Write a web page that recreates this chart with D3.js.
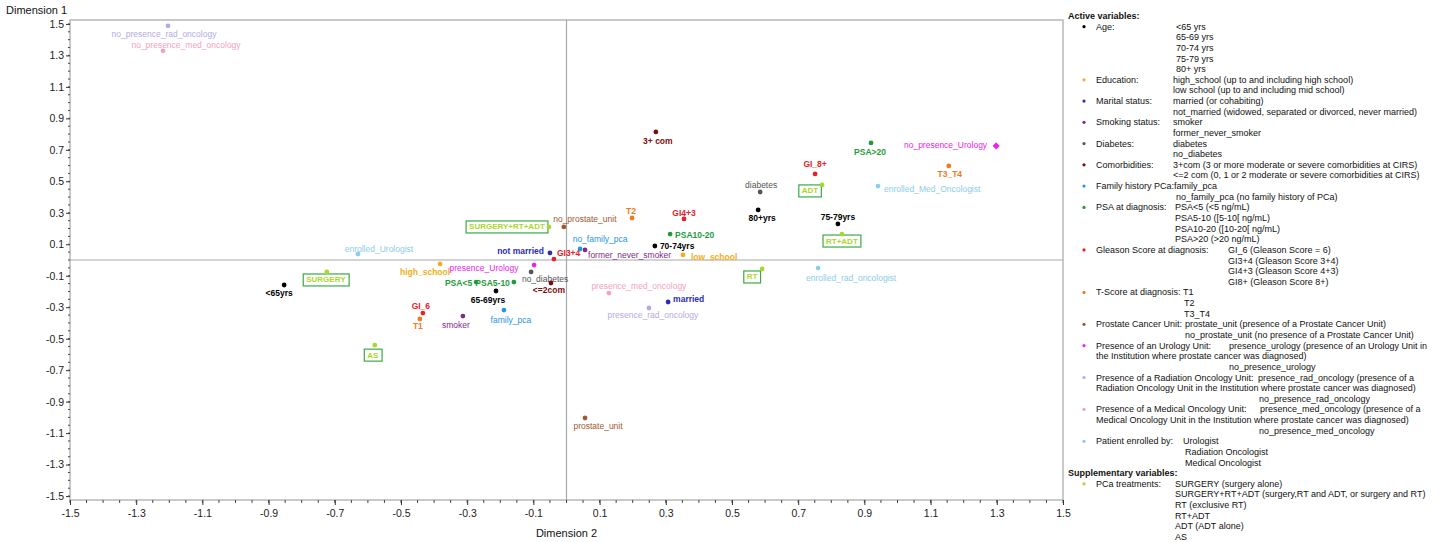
<!DOCTYPE html>
<html><head><meta charset="utf-8">
<script src="https://cdn.jsdelivr.net/npm/d3@7"></script>
<style>
html,body{margin:0;padding:0;background:#fff;}
svg{display:block;font-family:"Liberation Sans",Arial,sans-serif;}
</style></head>
<body><svg id="chart" width="1444" height="542"></svg>
<script>
// ---- data ----
const categories = ["no_presence_rad_oncology","no_presence_med_oncology","<65yrs","SURGERY","enrolled_Urologist","AS","high_school","presence_Urology","PSA<5","PSA5-10","65-69yrs","no_diabetes","<=2com","GI_6","T1","smoker","family_pca","not married","GI3+4","SURGERY+RT+ADT","no_prostate_unit","T2","3+ com","GI4+3","PSA10-20","no_family_pca","former_never_smoker","70-74yrs","low_school","diabetes","80+yrs","presence_med_oncology","married","presence_rad_oncology","RT","enrolled_rad_oncologist","75-79yrs","RT+ADT","ADT","GI_8+","PSA>20","no_presence_Urology","T3_T4","enrolled_Med_Oncologist","prostate_unit"];
const groups = ["rad","med","age","treat","enrolled","treat","edu","uro","psa","psa","age","diab","com","gleason","tscore","smoke","family","marital","gleason","treat","punit","tscore","com","gleason","psa","family","smoke","age","edu","diab","age","med","marital","rad","treat","enrolled","age","treat","treat","gleason","psa","uro","tscore","enrolled","punit"];
const dim2 = [-1.204,-1.219,-0.853,-0.724,-0.630,-0.579,-0.382,-0.098,-0.273,-0.159,-0.213,-0.107,-0.047,-0.434,-0.443,-0.313,-0.189,-0.050,-0.038,-0.053,-0.008,0.198,0.270,0.355,0.313,0.041,0.056,0.267,0.352,0.585,0.579,0.128,0.307,0.249,0.591,0.760,0.820,0.832,0.772,0.751,0.920,1.298,1.155,0.941,0.056];
const dim1 = [1.488,1.329,-0.159,-0.076,0.038,-0.541,-0.025,-0.032,-0.140,-0.140,-0.197,-0.076,-0.146,-0.337,-0.375,-0.356,-0.318,0.045,0.006,0.210,0.210,0.267,0.814,0.261,0.165,0.070,0.064,0.089,0.032,0.432,0.318,-0.210,-0.267,-0.305,-0.057,-0.051,0.229,0.165,0.477,0.547,0.744,0.725,0.598,0.470,-1.004];
const tickValues = [-1.5,-1.3,-1.1,-0.9,-0.7,-0.5,-0.3,-0.1,0.1,0.3,0.5,0.7,0.9,1.1,1.3,1.5];

// ---- styles / layout ----
const groupColor = {age:"#000000",edu:"#f0b020",marital:"#2c2cb8",smoke:"#7e2a8c",diab:"#555555",com:"#7a0c0c",family:"#2596e0",psa:"#1f9c3a",gleason:"#e8202a",tscore:"#f07a22",punit:"#a0582c",uro:"#ee22ee",rad:"#b2abe2",med:"#f5a2be",enrolled:"#8ccde8",treat:"#a8d82a"};
const boldGroups = new Set(["age","com","psa","marital","gleason","tscore","treat","edu"]);
// label offsets [dx, dy, anchor] relative to the point
const labelLayout = {
 "no_presence_rad_oncology":[-4,8,"middle"],"no_presence_med_oncology":[23,-6,"middle"],"<65yrs":[-5,8,"middle"],
 "SURGERY":[-1,8,"middle"],"enrolled_Urologist":[21,-5,"middle"],"AS":[-2,10,"middle"],"high_school":[-15,8,"middle"],
 "presence_Urology":[-50,3,"middle"],"PSA<5":[-4,1,"end"],"PSA5-10":[-4,1,"end"],"65-69yrs":[-8,9,"middle"],
 "no_diabetes":[14,7,"middle"],"<=2com":[-2,7,"middle"],"GI_6":[-2,-7,"middle"],"T1":[-2,7,"middle"],"smoker":[-7,9,"middle"],
 "family_pca":[7,10,"middle"],"not married":[-6,-2,"end"],"GI3+4":[3,-6,"start"],"SURGERY+RT+ADT":[-42,0,"middle"],
 "no_prostate_unit":[21,-8,"middle"],"T2":[-1,-7,"middle"],"3+ com":[2,9,"middle"],"GI4+3":[0,-6,"middle"],
 "PSA10-20":[5,1,"start"],"no_family_pca":[20,-10,"middle"],"former_never_smoker":[3,5,"start"],"70-74yrs":[5,0,"start"],
 "low_school":[8,2,"start"],"diabetes":[1,-7,"middle"],"80+yrs":[4,8,"middle"],"presence_med_oncology":[30,-7,"middle"],
 "married":[5,-3,"start"],"presence_rad_oncology":[4,7,"middle"],"RT":[-10,8,"middle"],"enrolled_rad_oncologist":[33,10,"middle"],
 "75-79yrs":[0,-7,"middle"],"RT+ADT":[0,7,"middle"],"ADT":[-12,6,"middle"],"GI_8+":[0,-10,"middle"],"PSA>20":[-1,9,"middle"],
 "no_presence_Urology":[-9,-1,"end"],"T3_T4":[1,8,"middle"],"enrolled_Med_Oncologist":[6,3,"start"],"prostate_unit":[13,8,"middle"]
};

const svg = d3.select("#chart");
const X0=70, X1=1063, Y0=20, Y1=500;
const x = d3.scaleLinear().domain([-1.5,1.5]).range([X0,X1]);
const y = d3.scaleLinear().domain([-1.525,1.525]).range([Y1,Y0]);
const fmt = v => (Math.abs(v)<1e-9?"0.0":v.toFixed(1));

// frame
svg.append("rect").attr("x",X0).attr("y",Y0).attr("width",X1-X0).attr("height",Y1-Y0)
  .attr("fill","none").attr("stroke","#b8b8b8").attr("stroke-width",1.5);
// zero reference lines
svg.append("line").attr("x1",x(0)).attr("x2",x(0)).attr("y1",Y0).attr("y2",Y1).attr("stroke","#a8a8a8").attr("stroke-width",1.2);
svg.append("line").attr("x1",X0).attr("x2",X1).attr("y1",y(0)).attr("y2",y(0)).attr("stroke","#a8a8a8").attr("stroke-width",1.2);

// axes
const minor = d3.range(-1.5,1.5001,0.05).map(v=>+v.toFixed(2));
const yAxis = d3.axisLeft(y).tickValues(tickValues).tickFormat(fmt).tickSize(4).tickPadding(2);
const gy = svg.append("g").attr("transform",`translate(${X0},0)`).call(yAxis);
const xAxis = d3.axisBottom(x).tickValues(tickValues).tickFormat(fmt).tickSize(5).tickPadding(5);
const gx = svg.append("g").attr("transform",`translate(0,${Y1})`).call(xAxis);
[gx,gy].forEach(g=>{
  g.select(".domain").remove();
  g.selectAll(".tick line").attr("stroke","#333").attr("stroke-width",1);
  g.selectAll(".tick text").attr("fill","#222").style("font-size","10.5px").style("font-family","'Liberation Sans',Arial,sans-serif");
});
svg.append("g").selectAll("line").data(minor).join("line")
  .attr("x1",X0-2).attr("x2",X0).attr("y1",d=>y(d)).attr("y2",d=>y(d)).attr("stroke","#444").attr("stroke-width",1);
svg.append("g").selectAll("line").data(minor).join("line")
  .attr("y1",Y1).attr("y2",Y1+3).attr("x1",d=>x(d)).attr("x2",d=>x(d)).attr("stroke","#444").attr("stroke-width",1);

svg.append("text").attr("x",6).attr("y",14).text("Dimension 1").style("font-size","11px").attr("fill","#111");
svg.append("text").attr("x",(X0+X1)/2).attr("y",537).attr("text-anchor","middle").text("Dimension 2").style("font-size","11px").attr("fill","#111");

// points + labels
const pts = categories.map((c,i)=>({name:c,g:groups[i],vx:dim2[i],vy:dim1[i]}));
const pg = svg.append("g");
pts.forEach(p=>{
  const px=x(p.vx), py=y(p.vy), col=groupColor[p.g];
  const [dx,dy,anc] = labelLayout[p.name];
  const t = pg.append("text").attr("x",px+dx).attr("y",py+dy).attr("text-anchor",anc)
    .attr("dominant-baseline","central").attr("fill",col).text(p.name)
    .style("font-size",p.g==="treat"?"8px":"8.5px").style("font-weight",boldGroups.has(p.g)?"bold":"normal");
  if(p.g==="treat"){
    const bb=t.node().getBBox();
    pg.insert("rect","text").attr("x",bb.x-3).attr("y",bb.y-1.5).attr("width",bb.width+6).attr("height",bb.height+3)
      .attr("fill","#fff").attr("stroke","#3aaa48").attr("stroke-width",1.2);
  }
  if(p.name==="no_presence_Urology"){
    pg.append("rect").attr("x",px-2.5).attr("y",py-2.5).attr("width",5).attr("height",5).attr("fill",col)
      .attr("transform",`rotate(45,${px},${py})`);
  } else {
    pg.append("circle").attr("cx",px).attr("cy",py).attr("r",2.4).attr("fill",col);
  }
});

// legend
const legendRows = [
 {t:"Active variables:",head:true},
 {g:"age",l:"Age:",v:"<65 yrs",vx:1176},{v:"65-69 yrs",vx:1176},{v:"70-74 yrs",vx:1176},{v:"75-79 yrs",vx:1176},{v:"80+ yrs",vx:1176},
 {g:"edu",l:"Education:",v:"high_school (up to and including high school)",vx:1173},{v:"low school (up to and including mid school)",vx:1173},
 {g:"marital",l:"Marital status:",v:"married (or cohabiting)",vx:1173},{v:"not_married (widowed, separated or divorced, never married)",vx:1173},
 {g:"smoke",l:"Smoking status:",v:"smoker",vx:1173},{v:"former_never_smoker",vx:1173},
 {g:"diab",l:"Diabetes:",v:"diabetes",vx:1173},{v:"no_diabetes",vx:1173},
 {g:"com",l:"Comorbidities:",v:"3+com (3 or more moderate or severe comorbidities at CIRS)",vx:1173},{v:"<=2 com (0, 1 or 2 moderate or severe comorbidities at CIRS)",vx:1173},
 {g:"family",l:"Family history PCa:",v:"family_pca",vx:1174},{v:"no_family_pca (no family history of PCa)",vx:1176},
 {g:"psa",l:"PSA at diagnosis:",v:"PSA<5 (<5 ng/mL)",vx:1175},{v:"PSA5-10 ([5-10[ ng/mL)",vx:1175},{v:"PSA10-20 ([10-20[ ng/mL)",vx:1175},{v:"PSA>20 (>20 ng/mL)",vx:1175},
 {g:"gleason",l:"Gleason Score at diagnosis:",v:"GI_6 (Gleason Score = 6)",vx:1228},{v:"GI3+4 (Gleason Score 3+4)",vx:1228},{v:"GI4+3 (Gleason Score 4+3)",vx:1228},{v:"GI8+ (Gleason Score 8+)",vx:1228},
 {g:"tscore",l:"T-Score at diagnosis:",v:"T1",vx:1183},{v:"T2",vx:1184},{v:"T3_T4",vx:1184},
 {g:"punit",l:"Prostate Cancer Unit:",v:"prostate_unit (presence of a Prostate Cancer Unit)",vx:1185},{v:"no_prostate_unit (no presence of a Prostate Cancer Unit)",vx:1185},
 {g:"uro",l:"Presence of an Urology Unit:",v:"presence_urology (presence of an Urology Unit in",vx:1229},{v:"the Institution where prostate cancer was diagnosed)",vx:1096},{v:"no_presence_urology",vx:1229},
 {g:"rad",l:"Presence of a Radiation Oncology Unit:",v:"presence_rad_oncology (presence of a",vx:1258},{v:"Radiation Oncology Unit in the Institution where prostate cancer was diagnosed)",vx:1096},{v:"no_presence_rad_oncology",vx:1259},
 {g:"med",l:"Presence of a Medical Oncology Unit:",v:"presence_med_oncology (presence of a",vx:1260},{v:"Medical Oncology Unit in the Institution where prostate cancer was diagnosed)",vx:1096},{v:"no_presence_med_oncology",vx:1259},
 {g:"enrolled",l:"Patient enrolled by:",v:"Urologist",vx:1183},{v:"Radiation Oncologist",vx:1185},{v:"Medical Oncologist",vx:1185},
 {t:"Supplementary variables:",head:true},
 {g:"treat",l:"PCa treatments:",v:"SURGERY (surgery alone)",vx:1175},{v:"SURGERY+RT+ADT (surgery,RT and ADT, or surgery and RT)",vx:1175},{v:"RT (exclusive RT)",vx:1175},{v:"RT+ADT",vx:1175},{v:"ADT (ADT alone)",vx:1175},{v:"AS",vx:1175}
];
const lg = svg.append("g").style("font-size","9px").attr("fill","#111");
const ly0=16, lstep=(537-16)/(legendRows.length-1);
legendRows.forEach((r,i)=>{
  const yy = ly0 + i*lstep;
  if(r.head){
    lg.append("text").attr("x",1068).attr("y",yy).attr("dominant-baseline","central").style("font-weight","bold").text(r.t);
    return;
  }
  if(r.g){
    lg.append("circle").attr("cx",1084).attr("cy",yy).attr("r",1.6).attr("fill",groupColor[r.g]);
    lg.append("text").attr("x",1096).attr("y",yy).attr("dominant-baseline","central").text(r.l);
  }
  lg.append("text").attr("x",r.vx).attr("y",yy).attr("dominant-baseline","central").text(r.v);
});
</script></body></html>
